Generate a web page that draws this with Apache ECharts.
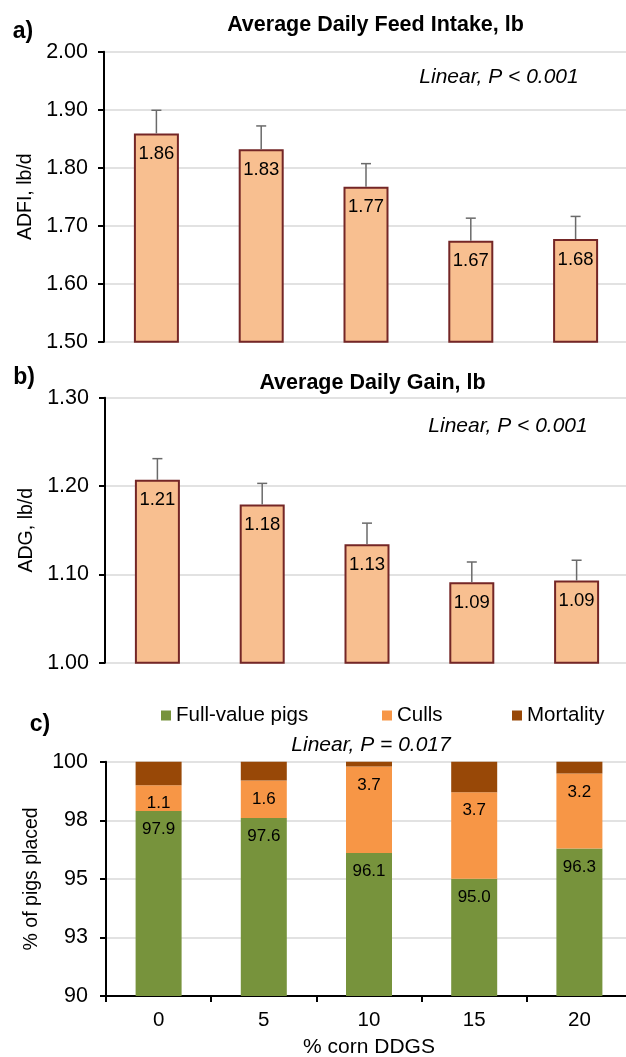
<!DOCTYPE html>
<html><head><meta charset="utf-8">
<script src="https://cdn.jsdelivr.net/npm/echarts@6/dist/echarts.min.js"></script>
<style>html,body{margin:0;padding:0;background:#fff}#c{width:626px;height:1057px}</style>
</head><body><div id="c"></div>
<script>
// ---- data ----
const categories = ['0', '5', '10', '15', '20'];
const adfiTicks = [1.50, 1.60, 1.70, 1.80, 1.90, 2.00];
const adgTicks = [1.00, 1.10, 1.20, 1.30];
const pctTicks = [90, 92.5, 95, 97.5, 100];
const adfi = [1.859, 1.832, 1.767, 1.674, 1.677];
const adfiSem = [0.040, 0.040, 0.040, 0.039, 0.039];
const adg = [1.207, 1.179, 1.134, 1.091, 1.093];
const adgSem = [0.024, 0.024, 0.024, 0.023, 0.023];
const fullValue = [97.9, 97.6, 96.1, 95.0, 96.3];
const culls = [1.1, 1.6, 3.7, 3.7, 3.2];
const mortality = [1.0, 0.8, 0.2, 1.3, 0.5];
const seriesNames = ['Full-value pigs', 'Culls', 'Mortality'];

// ---- styling ----
const FONT = '"Liberation Sans", Arial, Helvetica, sans-serif';
const PEACH = '#F8BF90', MAROON = '#742626', GREEN = '#77933C', ORANGE = '#F79646', BROWN = '#984807';

const chart = echarts.init(document.getElementById('c'));

function step(t) { return Math.round((t[1] - t[0]) * 1000) / 1000; }

function yAx(gi, ticks, fmt, name, nameGap, margin) {
  return {
    type: 'value', gridIndex: gi, min: ticks[0], max: ticks[ticks.length - 1], interval: step(ticks),
    name: name, nameLocation: 'middle', nameGap: nameGap, nameRotate: 90,
    nameTextStyle: { fontFamily: FONT, fontSize: 19.5, color: '#000' },
    axisLine: { show: true, lineStyle: { color: '#000', width: 2 } },
    axisTick: { show: true, length: 6, inside: false, lineStyle: { color: '#000', width: 2 } },
    axisLabel: { formatter: fmt, fontFamily: FONT, fontSize: 21.5, color: '#000', margin: margin },
    splitLine: { show: true, lineStyle: { color: '#d9d9d9', width: 1.5 } }
  };
}

function errSeries(idx, vals, sem) {
  return {
    type: 'custom', xAxisIndex: idx, yAxisIndex: idx, z: 5, silent: true,
    data: vals.map((v, i) => [i, v, v + sem[i]]),
    encode: { x: 0, y: [1, 2] },
    renderItem(params, api) {
      const p0 = api.coord([api.value(0), api.value(1)]);
      const p1 = api.coord([api.value(0), api.value(2)]);
      const st = { stroke: '#6a6a6a', lineWidth: 1.5 };
      return { type: 'group', children: [
        { type: 'line', shape: { x1: p0[0], y1: p0[1], x2: p1[0], y2: p1[1] }, style: st },
        { type: 'line', shape: { x1: p1[0] - 5, y1: p1[1], x2: p1[0] + 5, y2: p1[1] }, style: st }
      ]};
    }
  };
}

function peachBars(idx, vals) {
  return {
    type: 'bar', xAxisIndex: idx, yAxisIndex: idx, data: vals, barWidth: 45,
    itemStyle: { color: PEACH, borderColor: MAROON, borderWidth: 2 },
    label: { show: true, position: 'insideTop', distance: 11, formatter: p => p.value.toFixed(2),
      fontFamily: FONT, fontSize: 18.5, color: '#000' }
  };
}

function txt(text, x, y, size, weight, styleItalic) {
  return { type: 'text', x: x, y: y, silent: true,
    style: { text: text, fontFamily: FONT, fontSize: size, fontWeight: weight || 'normal',
      fontStyle: styleItalic ? 'italic' : 'normal', fill: '#000', align: 'center', verticalAlign: 'middle' } };
}

function legendItem(name, left) {
  return { data: [name], left: left, top: 705, padding: 0, icon: 'rect', itemWidth: 10, itemHeight: 10,
    itemGap: 5, selectedMode: false, textStyle: { fontFamily: FONT, fontSize: 20.5, color: '#000' } };
}

const hiddenX = (gi) => ({ type: 'category', gridIndex: gi, data: categories,
  axisLine: { show: false }, axisTick: { show: false }, axisLabel: { show: false }, splitLine: { show: false } });

chart.setOption({
  animation: false,
  backgroundColor: '#fff',
  grid: [
    { left: 104, top: 51.7, width: 524, height: 290, outerBoundsMode: 'none', containLabel: false },
    { left: 105, top: 397.7, width: 524, height: 265, outerBoundsMode: 'none', containLabel: false },
    { left: 106, top: 761.7, width: 526, height: 234.3, outerBoundsMode: 'none', containLabel: false }
  ],
  xAxis: [
    hiddenX(0), hiddenX(1),
    { type: 'category', gridIndex: 2, data: categories,
      name: '% corn DDGS', nameLocation: 'middle', nameGap: 41,
      nameTextStyle: { fontFamily: FONT, fontSize: 21, color: '#000' },
      axisLine: { show: true, lineStyle: { color: '#000', width: 2 } },
      axisTick: { show: true, length: 6, lineStyle: { color: '#000', width: 2 } },
      axisLabel: { fontFamily: FONT, fontSize: 20.5, color: '#000', margin: 14 },
      splitLine: { show: false } }
  ],
  yAxis: [
    yAx(0, adfiTicks, v => v.toFixed(2), 'ADFI, lb/d', 68, 16),
    yAx(1, adgTicks, v => v.toFixed(2), 'ADG, lb/d', 67, 16),
    yAx(2, pctTicks, v => String(Math.round(v)), '% of pigs placed', 62, 18)
  ],
  legend: [
    legendItem(seriesNames[0], 161),
    legendItem(seriesNames[1], 382),
    legendItem(seriesNames[2], 512)
  ],
  series: [
    peachBars(0, adfi), errSeries(0, adfi, adfiSem),
    peachBars(1, adg), errSeries(1, adg, adgSem),
    { name: seriesNames[0], type: 'bar', stack: 'pigs', xAxisIndex: 2, yAxisIndex: 2, data: fullValue, barWidth: 46,
      itemStyle: { color: GREEN },
      label: { show: true, position: 'insideTop', distance: 10, formatter: p => p.value.toFixed(1),
        fontFamily: FONT, fontSize: 17, color: '#000' } },
    { name: seriesNames[1], type: 'bar', stack: 'pigs', xAxisIndex: 2, yAxisIndex: 2, data: culls, barWidth: 46,
      itemStyle: { color: ORANGE },
      label: { show: true, position: 'insideTop', distance: 10, formatter: p => p.value.toFixed(1),
        fontFamily: FONT, fontSize: 17, color: '#000' } },
    { name: seriesNames[2], type: 'bar', stack: 'pigs', xAxisIndex: 2, yAxisIndex: 2, data: mortality, barWidth: 46,
      itemStyle: { color: BROWN }, label: { show: false } }
  ],
  graphic: [
    txt('a)', 23, 32, 23, 'bold'),
    txt('Average Daily Feed Intake, lb', 375.5, 25, 21.5, 'bold'),
    txt('Linear, P < 0.001', 499, 76.7, 21, 'normal', true),
    txt('b)', 24, 378, 23, 'bold'),
    txt('Average Daily Gain, lb', 372.5, 383, 21.5, 'bold'),
    txt('Linear, P < 0.001', 508, 426, 21, 'normal', true),
    txt('c)', 40, 725, 23, 'bold'),
    txt('Linear, P = 0.017', 371, 745, 21, 'normal', true)
  ]
});
</script></body></html>
